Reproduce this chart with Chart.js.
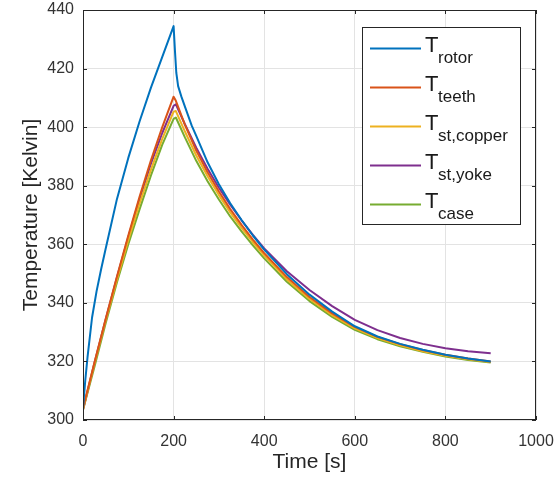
<!DOCTYPE html>
<html>
<head>
<meta charset="utf-8">
<script src="https://cdn.jsdelivr.net/npm/chart.js@4"></script>
<style>
  body { margin: 0; background: #fff; }
  #wrap { width: 555px; height: 480px; }
</style>
</head>
<body>
<div id="wrap"><canvas id="tempChart" width="555" height="480"></canvas></div>
<script>
"use strict";

// time axis (s) for the rotor curve (finer near the start and the peak)
const timeRotor = [0, 5, 10, 20, 30, 40, 50, 75, 100, 125, 150, 175, 200, 203, 206, 210, 217, 225, 240, 250, 275, 300, 325, 350, 375, 400, 450, 500, 550, 600, 650, 700, 750, 800, 850, 900];
const tRotor = [304, 313.5, 321.5, 335, 344, 351.5, 358.5, 375.5, 389.5, 402, 413.5, 424, 434.5, 426, 418.5, 414, 410.5, 407, 400.5, 397, 388, 380.5, 374, 368.3, 363, 358.2, 349.8, 342.8, 337, 332, 328.5, 326, 324, 322.3, 321, 320];

// time axis (s) for the stator / case curves
const timeStator = [0, 25, 50, 75, 100, 125, 150, 175, 200, 205, 225, 250, 275, 300, 325, 350, 375, 400, 450, 500, 550, 600, 650, 700, 750, 800, 850, 900];
const tTeeth  = [304, 319.5, 334.5, 349, 363, 376.3, 388.7, 400, 410.4, 409, 400.8, 392, 384.6, 378, 372, 366.6, 361.6, 357, 348.8, 342, 336.4, 331.8, 328.4, 325.9, 323.9, 322.3, 321, 320];
const tCopper = [303.5, 319, 334, 348, 361.5, 374, 385.5, 396, 405.3, 405.5, 398.5, 390.3, 383.2, 376.8, 370.9, 365.6, 360.7, 356.2, 348, 341.3, 335.8, 331.3, 328, 325.5, 323.5, 321.9, 320.7, 319.8];
const tYoke   = [303.5, 319.3, 334.3, 348.7, 362.5, 375.5, 387.5, 398, 407.3, 407.8, 401, 393, 385.8, 379.3, 373.5, 368.2, 363.2, 358.6, 350.8, 344.4, 338.9, 334.2, 330.7, 328, 326, 324.5, 323.5, 322.8];
const tCase   = [303.5, 318, 333, 347, 360, 372, 383.5, 394, 402.8, 403.3, 396.5, 388.5, 381.5, 375.3, 369.5, 364.4, 359.6, 355.2, 347.2, 340.6, 335.2, 330.8, 327.6, 325.2, 323.3, 321.7, 320.5, 319.6];

const xTicks = [0, 200, 400, 600, 800, 1000];
const yTicks = [300, 320, 340, 360, 380, 400, 420, 440];

// legend text: main letter + subscript
const seriesNames = ["rotor", "teeth", "st,copper", "st,yoke", "case"];
const seriesColors = ["#0072BD", "#D95319", "#EDB120", "#7E2F8E", "#77AC30"];

function pairs(xs, ys) {
    return xs.map((x, i) => ({ x: x, y: ys[i] }));
}

const seriesData = [
    pairs(timeRotor, tRotor),
    pairs(timeStator, tTeeth),
    pairs(timeStator, tCopper),
    pairs(timeStator, tYoke),
    pairs(timeStator, tCase)
];

const FONT = "'Liberation Sans', Arial, Helvetica, sans-serif";
const AXIS_COLOR = "#262626";

// box, inner ticks and the legend with subscripts (MATLAB style)
const matlabAxes = {
    id: "matlabAxes",
    afterDatasetsDraw(chart) {
        const ctx = chart.ctx;
        const a = chart.chartArea;
        const xs = chart.scales.x;
        const ys = chart.scales.y;
        ctx.save();
        ctx.strokeStyle = AXIS_COLOR;
        ctx.lineWidth = 1;
        ctx.strokeRect(Math.round(a.left) + 0.5, Math.round(a.top) + 0.5,
            Math.round(a.right - a.left) - 1, Math.round(a.bottom - a.top) - 1);
        const tl = 4;
        ctx.beginPath();
        xTicks.forEach(v => {
            const px = Math.round(xs.getPixelForValue(v)) + 0.5;
            ctx.moveTo(px, a.bottom); ctx.lineTo(px, a.bottom - tl);
            ctx.moveTo(px, a.top); ctx.lineTo(px, a.top + tl);
        });
        yTicks.forEach(v => {
            const py = Math.round(ys.getPixelForValue(v)) + 0.5;
            ctx.moveTo(a.left, py); ctx.lineTo(a.left + tl, py);
            ctx.moveTo(a.right, py); ctx.lineTo(a.right - tl, py);
        });
        ctx.stroke();

        // legend
        const lx = 362, ly = 27, lw = 158, lh = 197;
        ctx.fillStyle = "#fff";
        ctx.fillRect(lx, ly, lw, lh);
        ctx.strokeStyle = AXIS_COLOR;
        ctx.strokeRect(lx + 0.5, ly + 0.5, lw, lh);
        seriesNames.forEach((name, i) => {
            const cy = 48.5 + i * 39;
            ctx.strokeStyle = seriesColors[i];
            ctx.lineWidth = 2;
            ctx.beginPath();
            ctx.moveTo(370, cy);
            ctx.lineTo(421, cy);
            ctx.stroke();
            ctx.fillStyle = "#1a1a1a";
            ctx.textBaseline = "alphabetic";
            ctx.textAlign = "left";
            ctx.font = "22px " + FONT;
            ctx.fillText("T", 425, cy + 3.5);
            ctx.font = "17px " + FONT;
            ctx.fillText(name, 438, cy + 14);
        });
        ctx.restore();
    }
};

const ctx = document.getElementById("tempChart").getContext("2d");
const tempChart = new Chart(ctx, {
    type: "line",
    data: {
        datasets: seriesNames.map((name, i) => ({
            label: "T_" + name,
            data: seriesData[i],
            borderColor: seriesColors[i],
            backgroundColor: seriesColors[i],
            borderWidth: 2,
            borderJoinStyle: "round",
            pointRadius: 0,
            fill: false,
            tension: 0
        }))
    },
    options: {
        responsive: false,
        animation: false,
        layout: { padding: { left: 0, top: 10, right: 19, bottom: 0 } },
        plugins: {
            legend: { display: false },
            tooltip: { enabled: false }
        },
        scales: {
            x: {
                type: "linear",
                min: 0,
                max: 1000,
                afterBuildTicks: s => { s.ticks = xTicks.map(v => ({ value: v })); },
                afterFit: s => {
                    s.height = 60;
                    s.paddingLeft = 0;
                    s.paddingRight = 0;
                },
                grid: { color: "#e3e3e3", drawTicks: false },
                border: { display: false },
                ticks: {
                    padding: 12,
                    color: "#333",
                    font: { family: FONT, size: 16 },
                    callback: v => String(v)
                },
                title: {
                    display: true,
                    text: "Time [s]",
                    color: "#262626",
                    font: { family: FONT, size: 21 },
                    padding: { top: 0, bottom: 5 }
                }
            },
            y: {
                type: "linear",
                min: 300,
                max: 440,
                afterBuildTicks: s => { s.ticks = yTicks.map(v => ({ value: v })); },
                afterFit: s => {
                    s.width = 83;
                    s.paddingTop = 0;
                    s.paddingBottom = 0;
                },
                grid: { color: "#e3e3e3", drawTicks: false },
                border: { display: false },
                ticks: {
                    padding: 9,
                    color: "#333",
                    font: { family: FONT, size: 16 },
                    callback: v => String(v)
                },
                title: {
                    display: true,
                    text: "Temperature [Kelvin]",
                    color: "#262626",
                    font: { family: FONT, size: 21 },
                    padding: { top: 19, bottom: 0 }
                }
            }
        }
    },
    plugins: [matlabAxes]
});
</script>
</body>
</html>
